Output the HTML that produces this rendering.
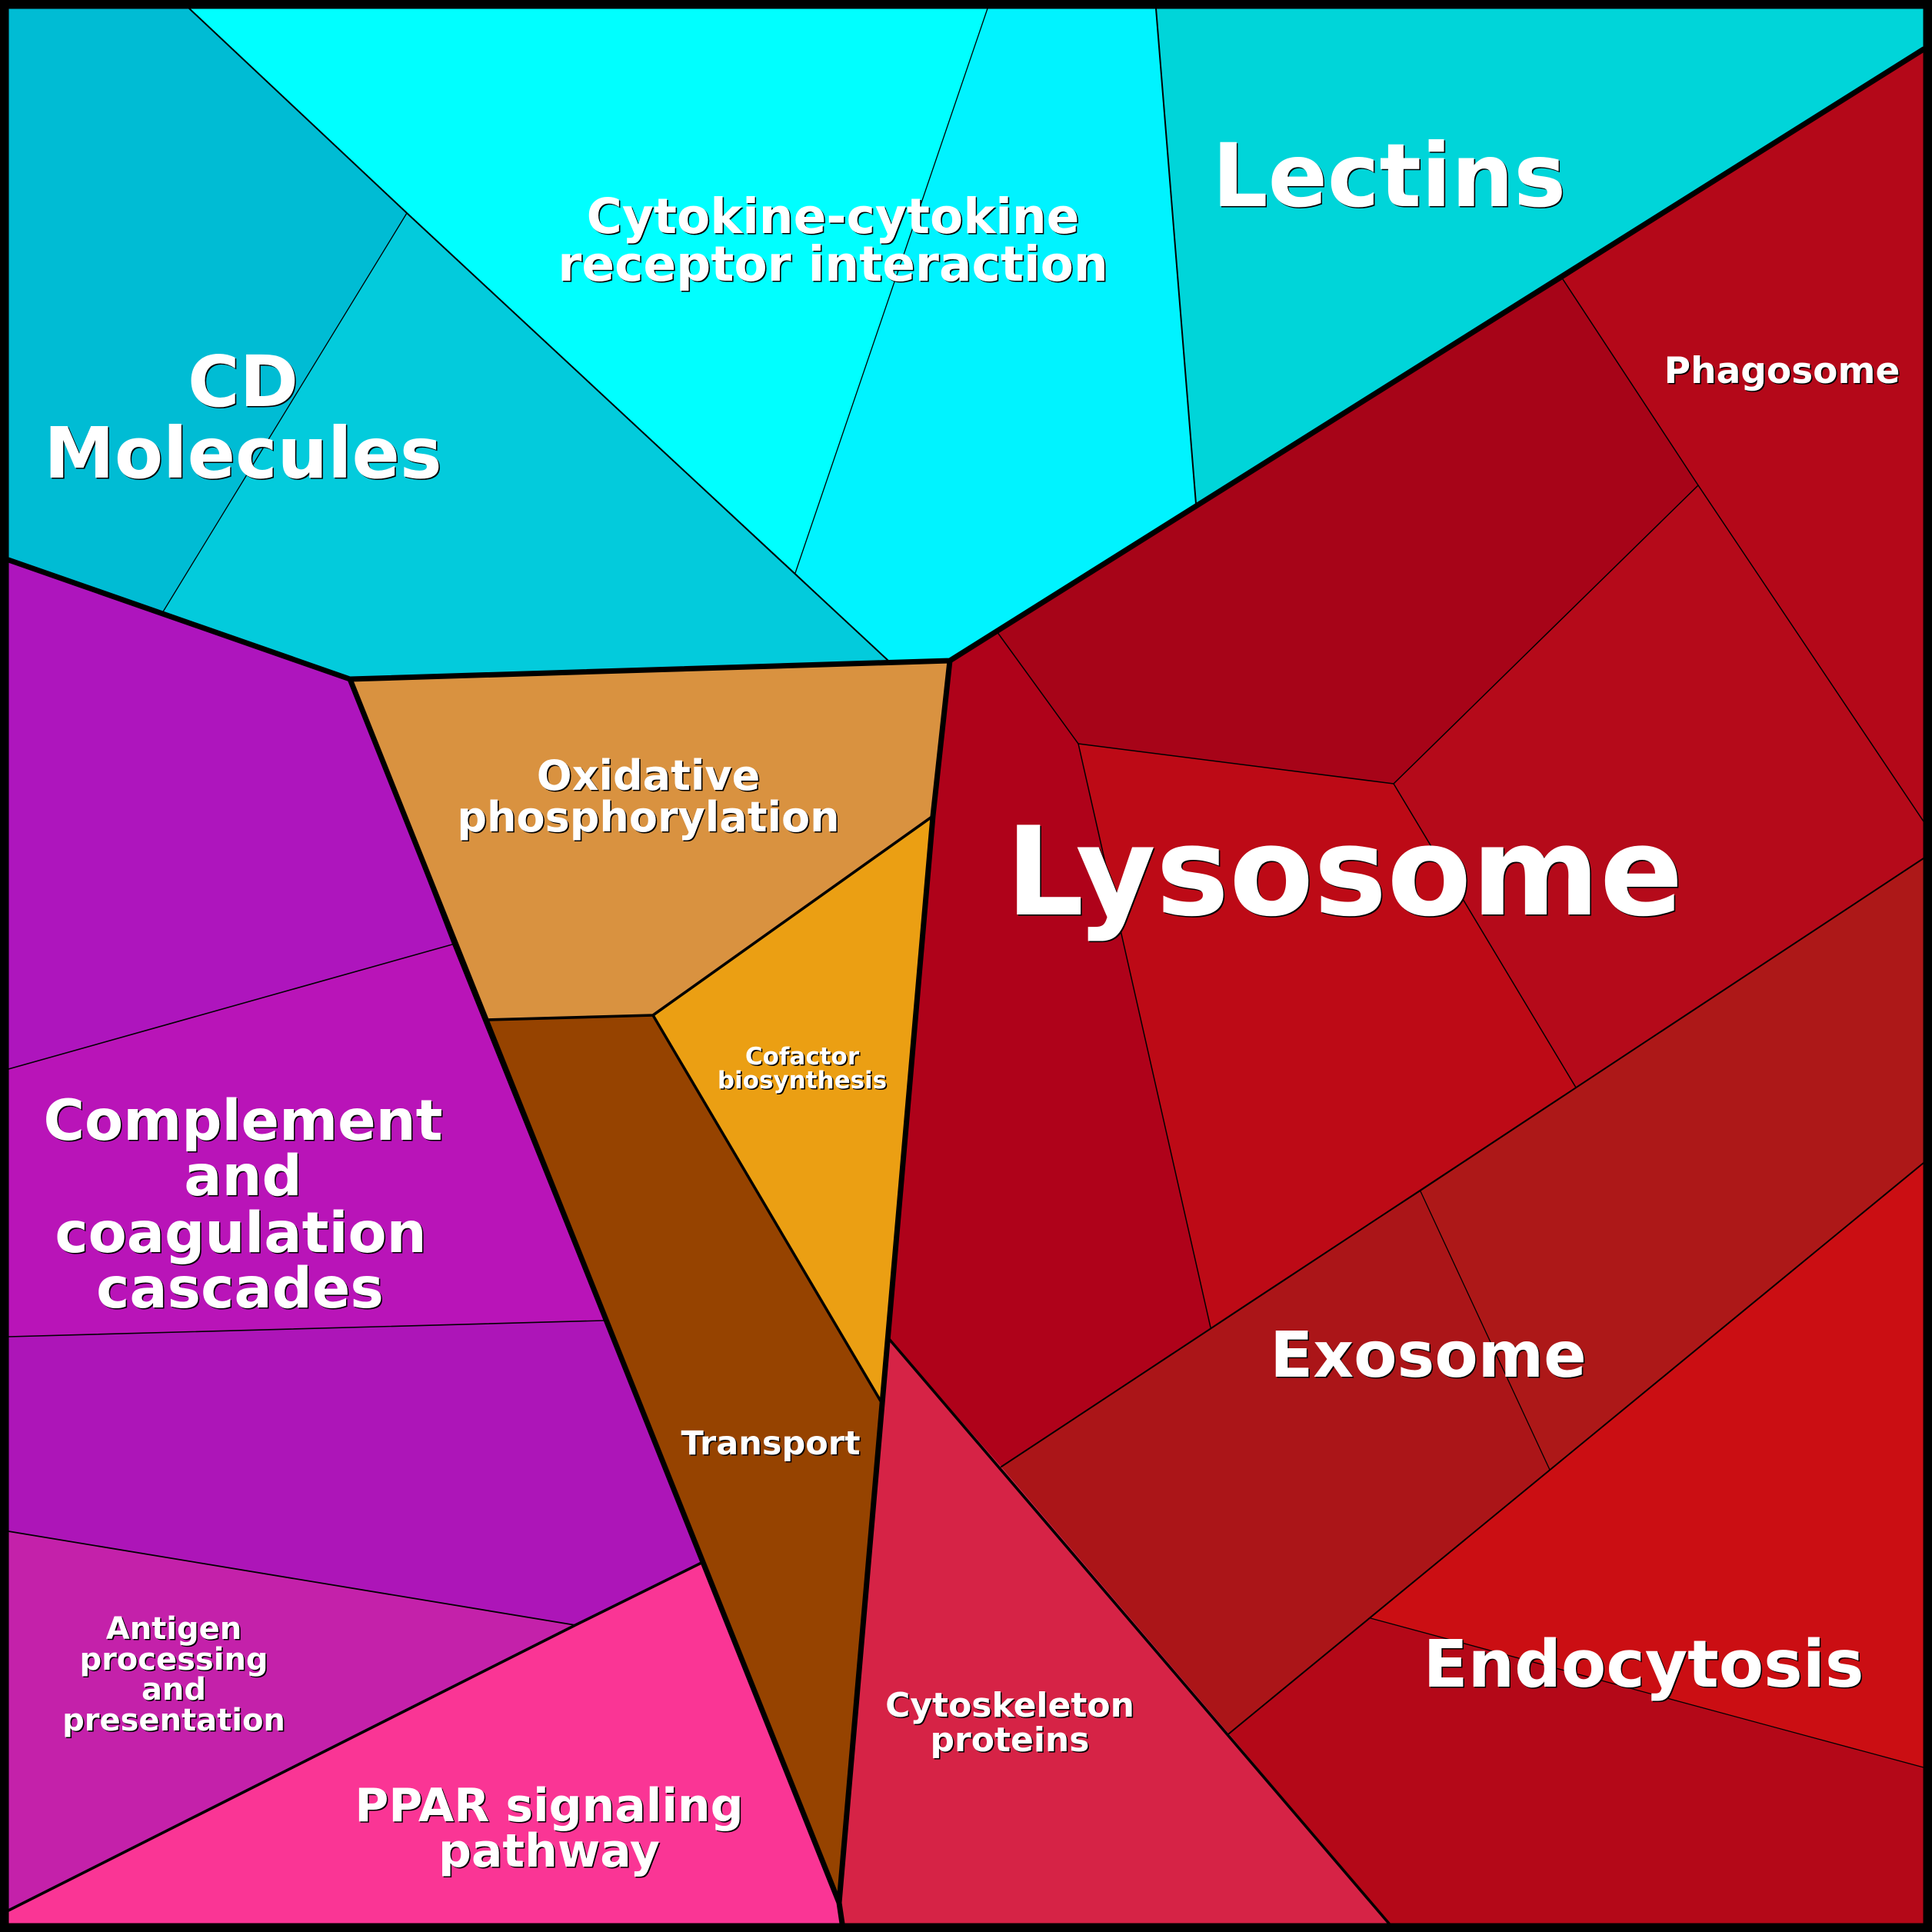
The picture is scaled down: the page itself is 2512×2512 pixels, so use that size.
<!DOCTYPE html>
<html>
<head>
<meta charset="utf-8">
<style>
html,body{margin:0;padding:0;background:#000;}
svg{display:block;}
text{font-family:"DejaVu Sans","Liberation Sans",sans-serif;font-weight:bold;text-anchor:middle;}
.s{fill:#000;}
.t{fill:#fff;}
</style>
</head>
<body>
<svg width="2512" height="2512" viewBox="0 0 2512 2512" xmlns="http://www.w3.org/2000/svg">
<defs>
<g id="labels">
<text x="316" y="528" font-size="92">CD</text>
<text x="316" y="621" font-size="92">Molecules</text>
<text x="1083" y="303" font-size="63">Cytokine-cytokine</text>
<text x="1083" y="365" font-size="63">receptor interaction</text>
<text x="1806" y="268" font-size="114">Lectins</text>
<text x="2317" y="498" font-size="47">Phagosome</text>
<text x="1748" y="1189" font-size="160">Lysosome</text>
<text x="843" y="1027" font-size="54">Oxidative</text>
<text x="843" y="1081" font-size="54">phosphorylation</text>
<text x="1043" y="1384" font-size="31">Cofactor</text>
<text x="1043" y="1415" font-size="31">biosynthesis</text>
<text x="1002" y="1891" font-size="43">Transport</text>
<text x="316" y="1482" font-size="73">Complement</text>
<text x="316" y="1554" font-size="73">and</text>
<text x="313" y="1628" font-size="73">coagulation</text>
<text x="312" y="1700" font-size="73">cascades</text>
<text x="226" y="2131" font-size="40">Antigen</text>
<text x="226" y="2171" font-size="40">processing</text>
<text x="226" y="2210" font-size="40">and</text>
<text x="226" y="2250" font-size="40">presentation</text>
<text x="714" y="2368" font-size="60">PPAR signaling</text>
<text x="714" y="2427" font-size="60">pathway</text>
<text x="1313" y="2232" font-size="44">Cytoskeleton</text>
<text x="1313" y="2277" font-size="44">proteins</text>
<text x="1857" y="1790" font-size="82">Exosome</text>
<text x="2137" y="2193" font-size="85">Endocytosis</text>
</g>
</defs>
<rect x="0" y="0" width="2512" height="2512" fill="#000"/>
<g stroke-linejoin="round">
<polygon points="11,11 246,11 529,277 211,797 11,728" fill="#00bcd4"/>
<polygon points="529,277 1155,859 455,883 211,797" fill="#03cbdc"/>
<polygon points="246,11 1284,11 1034,745 529,277" fill="#00ffff"/>
<polygon points="1284,11 1503,11 1555,655 1235,859 1155,859 1034,745" fill="#00f3ff"/>
<polygon points="1503,11 2501,11 2501,64 1555,655" fill="#00d5d9"/>
<polygon points="455,883 1235,859 1213,1061 849,1320 634,1326" fill="#d99240"/>
<polygon points="849,1320 1213,1061 1147,1825" fill="#eb9f13"/>
<polygon points="634,1326 849,1320 1147,1825 1091,2474" fill="#964300"/>
<polygon points="11,728 455,883 588,1228 11,1390" fill="#ae15bd"/>
<polygon points="11,1390 588,1228 785,1717 11,1738" fill="#b914b8"/>
<polygon points="11,1738 785,1717 912,2032 748,2113 11,1991" fill="#ad15b8"/>
<polygon points="11,1991 748,2113 11,2484" fill="#c421aa"/>
<polygon points="11,2484 748,2113 912,2032 1091,2474 1095,2501 11,2501" fill="#fa3595"/>
<polygon points="1296,821 2032,363 2208,631 1812,1019 1402,967" fill="#a70418"/>
<polygon points="2032,363 2501,64 2501,1068 2208,631" fill="#b40819"/>
<polygon points="2208,631 2501,1068 2501,1116 2049,1414 1812,1019" fill="#b50a1a"/>
<polygon points="1402,967 1812,1019 2049,1414 1574,1726" fill="#bd0a16"/>
<polygon points="1235,859 1296,821 1402,967 1574,1726 1302,1907 1156,1741 1213,1061" fill="#af021a"/>
<polygon points="1302,1907 1574,1726 1847,1549 2015,1911 1598,2254" fill="#ab1518"/>
<polygon points="1847,1549 2501,1116 2501,1512 2015,1911" fill="#ad1818"/>
<polygon points="2501,1512 2501,2298 1782,2104 2015,1911" fill="#cb0e13"/>
<polygon points="1782,2104 2501,2298 2501,2501 1806,2501 1598,2254" fill="#b40818"/>
<polygon points="1156,1741 1302,1907 1598,2254 1806,2501 1095,2501 1091,2474 1147,1825" fill="#d62346"/>
</g>

<g fill="none" stroke="#000" stroke-linecap="round" stroke-linejoin="round">
<polyline points="246,11 529,277 1155,859" stroke-width="2"/>
<polyline points="529,277 211,797" stroke-width="1.3"/>
<polyline points="1284,11 1034,745" stroke-width="1.3"/>
<polyline points="1503,11 1555,655" stroke-width="2"/>
<polyline points="11,1390 588,1228" stroke-width="1.6"/>
<polyline points="11,1738 785,1717" stroke-width="1.6"/>
<polyline points="11,1991 748,2113" stroke-width="1.8"/>
<polyline points="1296,821 1402,967 1812,1019 2208,631" stroke-width="1.5"/>
<polyline points="2032,363 2208,631 2501,1068" stroke-width="1.5"/>
<polyline points="1402,967 1574,1726" stroke-width="1.5"/>
<polyline points="1812,1019 2049,1414" stroke-width="1.5"/>
<polyline points="2501,1116 1302,1907" stroke-width="2"/>
<polyline points="1847,1549 2015,1911" stroke-width="1.3"/>
<polyline points="2501,1512 1598,2254" stroke-width="2"/>
<polyline points="1782,2104 2501,2298" stroke-width="1.3"/>
</g>

<g fill="none" stroke="#000" stroke-linecap="round" stroke-linejoin="round" stroke-width="3.6">
<polyline points="634,1326 849,1320 1213,1061"/>
<polyline points="849,1320 1147,1825"/>
<polyline points="1156,1741 1806,2501"/>
<polyline points="11,2484 748,2113 912,2032"/>
</g>

<g fill="none" stroke="#000" stroke-linecap="round" stroke-linejoin="round" stroke-width="7">
<polyline points="11,728 455,883 1235,859 2501,64"/>
<polyline points="455,883 1091,2474 1095,2501"/>
<polyline points="1235,859 1213,1061 1147,1825 1091,2474"/>
</g>

<rect x="5.75" y="5.75" width="2500.5" height="2500.5" fill="none" stroke="#000" stroke-width="11.5"/>

<g class="s" transform="translate(1.6,1.6)">
<text x="316" y="528" font-size="92">CD</text>
<text x="316" y="621" font-size="92">Molecules</text>
<text x="1083" y="303" font-size="63">Cytokine-cytokine</text>
<text x="1083" y="365" font-size="63">receptor interaction</text>
<text x="1806" y="268" font-size="114">Lectins</text>
<text x="2317" y="498" font-size="47">Phagosome</text>
<text x="1748" y="1189" font-size="160">Lysosome</text>
<text x="843" y="1027" font-size="54">Oxidative</text>
<text x="843" y="1081" font-size="54">phosphorylation</text>
<text x="1043" y="1384" font-size="31">Cofactor</text>
<text x="1043" y="1415" font-size="31">biosynthesis</text>
<text x="1002" y="1891" font-size="43">Transport</text>
<text x="316" y="1482" font-size="73">Complement</text>
<text x="316" y="1554" font-size="73">and</text>
<text x="313" y="1628" font-size="73">coagulation</text>
<text x="312" y="1700" font-size="73">cascades</text>
<text x="226" y="2131" font-size="40">Antigen</text>
<text x="226" y="2171" font-size="40">processing</text>
<text x="226" y="2210" font-size="40">and</text>
<text x="226" y="2250" font-size="40">presentation</text>
<text x="714" y="2368" font-size="60">PPAR signaling</text>
<text x="714" y="2427" font-size="60">pathway</text>
<text x="1313" y="2232" font-size="44">Cytoskeleton</text>
<text x="1313" y="2277" font-size="44">proteins</text>
<text x="1857" y="1790" font-size="82">Exosome</text>
<text x="2137" y="2193" font-size="85">Endocytosis</text>
</g>
<g class="t">
<text x="316" y="528" font-size="92">CD</text>
<text x="316" y="621" font-size="92">Molecules</text>
<text x="1083" y="303" font-size="63">Cytokine-cytokine</text>
<text x="1083" y="365" font-size="63">receptor interaction</text>
<text x="1806" y="268" font-size="114">Lectins</text>
<text x="2317" y="498" font-size="47">Phagosome</text>
<text x="1748" y="1189" font-size="160">Lysosome</text>
<text x="843" y="1027" font-size="54">Oxidative</text>
<text x="843" y="1081" font-size="54">phosphorylation</text>
<text x="1043" y="1384" font-size="31">Cofactor</text>
<text x="1043" y="1415" font-size="31">biosynthesis</text>
<text x="1002" y="1891" font-size="43">Transport</text>
<text x="316" y="1482" font-size="73">Complement</text>
<text x="316" y="1554" font-size="73">and</text>
<text x="313" y="1628" font-size="73">coagulation</text>
<text x="312" y="1700" font-size="73">cascades</text>
<text x="226" y="2131" font-size="40">Antigen</text>
<text x="226" y="2171" font-size="40">processing</text>
<text x="226" y="2210" font-size="40">and</text>
<text x="226" y="2250" font-size="40">presentation</text>
<text x="714" y="2368" font-size="60">PPAR signaling</text>
<text x="714" y="2427" font-size="60">pathway</text>
<text x="1313" y="2232" font-size="44">Cytoskeleton</text>
<text x="1313" y="2277" font-size="44">proteins</text>
<text x="1857" y="1790" font-size="82">Exosome</text>
<text x="2137" y="2193" font-size="85">Endocytosis</text>
</g>
</svg>
</body>
</html>
